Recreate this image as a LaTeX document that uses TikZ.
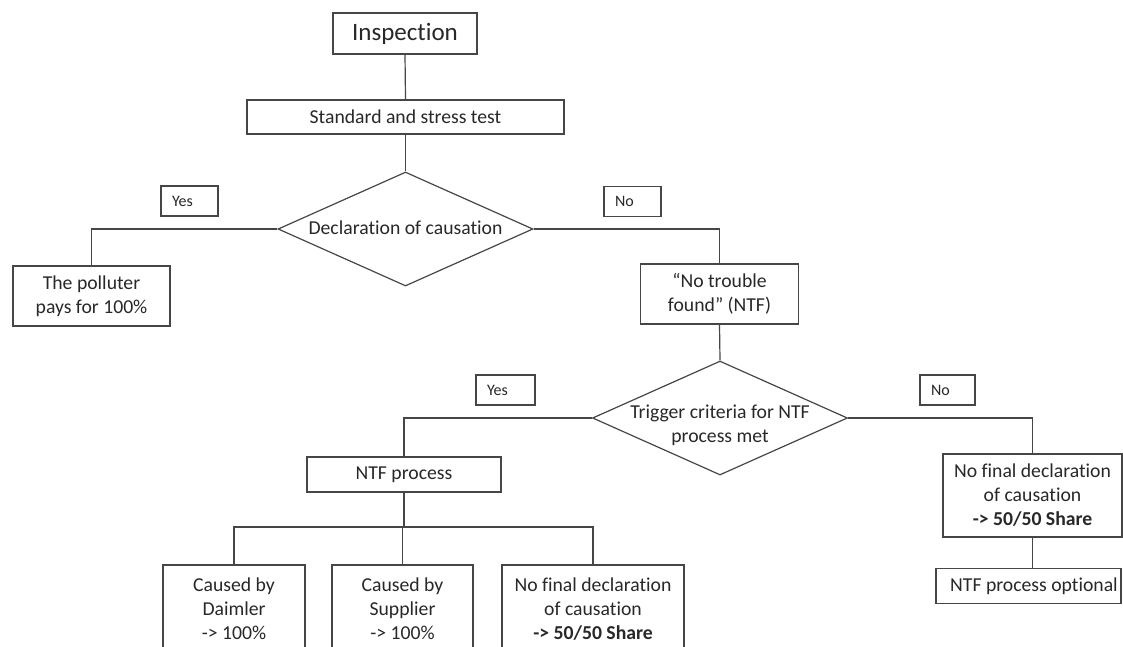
\documentclass[tikz,border=0pt]{standalone}
\usepackage{fontspec}
\setmainfont{Carlito}[Ligatures={TeX,NoCommon}]
\usetikzlibrary{shapes.geometric}
\definecolor{lc}{RGB}{70,70,70}
\definecolor{tc}{RGB}{40,40,40}
\newcommand{\mainf}{\fontsize{19.7}{24}\selectfont}
\newcommand{\labf}{\fontsize{16}{19}\selectfont}
\newcommand{\bigf}{\fontsize{25}{30}\selectfont}
\tikzset{
  box/.style={draw=lc, line width=1.2pt, rectangle, inner sep=0pt, align=center, text=tc, font=\mainf},
  dia/.style={draw=lc, line width=1.2pt, diamond, inner sep=0pt, minimum width=255pt, minimum height=114pt},
  diatext/.style={align=center, text=tc, font=\mainf, inner sep=0pt},
  lab/.style={draw=lc, line width=1.2pt, rectangle, inner xsep=11pt, inner ysep=0pt, align=left, text=tc, font=\labf, minimum height=30pt},
  conn/.style={draw=lc, line width=1.2pt},
}
\begin{document}
\begin{tikzpicture}[x=1pt,y=-1pt]
\useasboundingbox (0,0) rectangle (1123,646);
\fill[white] (0,0) rectangle (1123,646);
\begin{scope}
\clip (0,0) rectangle (1123,646);
% nodes
\node[box, font=\bigf, minimum width=144pt, minimum height=41pt] (insp) at (405,33.5) {Inspection};
\node[box, minimum width=317pt, minimum height=34pt] (std) at (405.5,117) {Standard and stress test};
\node[dia] (d1) at (405.5,229) {};
\node[diatext] (d1t) at (405.5,228) {Declaration of causation};
\node[lab, text width=35pt] (yes1) at (189.5,201) {Yes};
\node[lab, text width=35pt] (no1) at (632.5,201.5) {No};
\node[box, minimum width=157pt, minimum height=60pt] (poll) at (91.5,296) {The polluter\\pays for 100\%};
\node[box, minimum width=158pt, minimum height=60pt] (ntf) at (719.5,294) {“No trouble\\found” (NTF)};
\node[dia] (d2) at (720,418) {};
\node[diatext] (d2t) at (720,425) {Trigger criteria for NTF\\process met};
\node[lab, text width=37pt] (yes2) at (505.5,390) {Yes};
\node[lab, text width=33pt] (no2) at (947.5,390) {No};
\node[box, minimum width=194pt, minimum height=35pt] (ntfp) at (404,474.5) {NTF process};
\node[box, minimum width=142pt, minimum height=88pt] (daim) at (234,609) {Caused by\\Daimler\\-> 100\%};
\node[box, minimum width=141pt, minimum height=88pt] (supp) at (402.5,609) {Caused by\\Supplier\\-> 100\%};
\node[box, minimum width=182pt, minimum height=88pt] (third) at (593,609) {No final declaration\\of causation\\\textbf{-> 50/50 Share}};
\node[box, minimum width=179pt, minimum height=83pt] (rfin) at (1032.5,495.5) {No final declaration\\of causation\\\textbf{-> 50/50 Share}};
\node[box, minimum width=185pt, minimum height=35pt] (opt) at (1028.5,586) {};
\node[diatext] (optt) at (1034,586) {NTF process optional};
\coordinate (bus) at (405,527);
% connectors
\draw[conn] (insp.south) -- (std.north);
\draw[conn] (std.south) -- (d1.north);
\draw[conn] (d1.west) -| (poll.north);
\draw[conn] (d1.east) -| (ntf.north);
\draw[conn] (ntf.south) -- (d2.north);
\draw[conn] (d2.west) -| (ntfp.north);
\draw[conn] (d2.east) -| (rfin.north);
\draw[conn] (rfin.south) -- (rfin.south |- opt.north);
\draw[conn] (ntfp.south) -- (ntfp.south |- bus);
\draw[conn] (daim.north) |- (bus) -| (third.north);
\draw[conn] (supp.north) -- (supp.north |- bus);
\end{scope}
\end{tikzpicture}
\end{document}
